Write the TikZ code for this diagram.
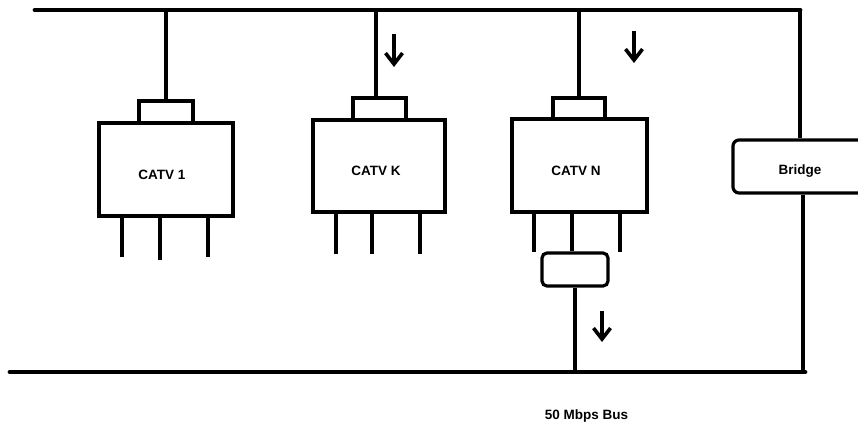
\documentclass[tikz,border=0pt]{standalone}
\usepackage{fontspec}
\setmainfont{Liberation Sans}
\usetikzlibrary{arrows.meta}
\begin{document}
\begin{tikzpicture}[x=1pt,y=-1pt,
  box/.style={draw,line width=3.2pt,minimum width=#1,inner sep=0pt},
  txt/.style={font=\bfseries\fontsize{13.5}{15}\selectfont,inner sep=0pt},
  wire/.style={line width=3.2pt},
  bus/.style={line width=4.8pt,line cap=round},
  arr/.style={line width=3.6pt,-{Straight Barb[length=11pt,width=17pt,line width=3.6pt]}}]
\useasboundingbox (0,0) rectangle (858,426);
\clip (0,0) rectangle (858,426);
% buses
\coordinate (tbL) at (35,10);
\coordinate (tbR) at (800,10);
\coordinate (bbL) at (10,372);
\coordinate (bbR) at (805,372);
\draw[bus] (tbL) -- (tbR);
\draw[bus] (bbL) -- (bbR);
% CATV 1
\node[box=134pt,minimum height=93pt] (c1) at (166,169.5) {};
\node[txt] (c1x) at (162,175) {CATV 1};
\node[box=54pt,minimum height=22pt] (c1t) at (166,112) {};
\draw[wire] (c1t.north) -- (c1t.north |- tbL);
\draw[wire] ([xshift=-44pt]c1.south) -- ++(0,39);
\draw[wire] ([xshift=-6pt]c1.south) -- ++(0,42);
\draw[wire] ([xshift=42pt]c1.south) -- ++(0,39);
% CATV K
\node[box=132pt,minimum height=92pt] (ck) at (379,166) {};
\node[txt] (ckx) at (376,171) {CATV K};
\node[box=53pt,minimum height=22pt] (ckt) at (379.5,109) {};
\coordinate (ckl) at (376,98);
\draw[wire] (ckl) -- (ckl |- tbL);
\draw[wire] ([xshift=-43pt]ck.south) -- ++(0,40);
\draw[wire] ([xshift=-7pt]ck.south) -- ++(0,40);
\draw[wire] ([xshift=41pt]ck.south) -- ++(0,40);
\coordinate (akA) at (394,34);
\coordinate (akB) at (394,67);
\draw[arr] (akA) -- (akB);
% CATV N
\node[box=135pt,minimum height=93pt] (cn) at (579.5,165.5) {};
\node[txt] (cnx) at (576,171) {CATV N};
\node[box=52pt,minimum height=21pt] (cnt) at (579,108.5) {};
\draw[wire] (cnt.north) -- (cnt.north |- tbL);
\draw[wire] ([xshift=-45.5pt]cn.south) -- ++(0,38);
\draw[wire] ([xshift=40.5pt]cn.south) -- ++(0,38);
\coordinate (anA) at (634,31);
\coordinate (anB) at (634,63);
\draw[arr] (anA) -- (anB);
% tap box
\node[box=66pt,minimum height=33pt,rounded corners=5pt] (tap) at (575,269.5) {};
\draw[wire] ([xshift=-7.5pt]cn.south) -- ([xshift=-3pt]tap.north);
\draw[wire] (tap.south) -- (tap.south |- bbL);
\coordinate (atA) at (602,311);
\coordinate (atB) at (602,342);
\draw[arr] (atA) -- (atB);
% Bridge
\node[box=134pt,minimum height=53pt,rounded corners=6pt] (br) at (800,166.5) {};
\node[txt] (brx) at (800,171) {Bridge};
\draw[wire] (br.north) -- (br.north |- tbR);
\draw[wire] ([xshift=3pt]br.south) -- ([xshift=3pt]br.south |- bbR);
% label
\node[txt] (lbl) at (586.5,416) {50 Mbps Bus};
\end{tikzpicture}
\end{document}
